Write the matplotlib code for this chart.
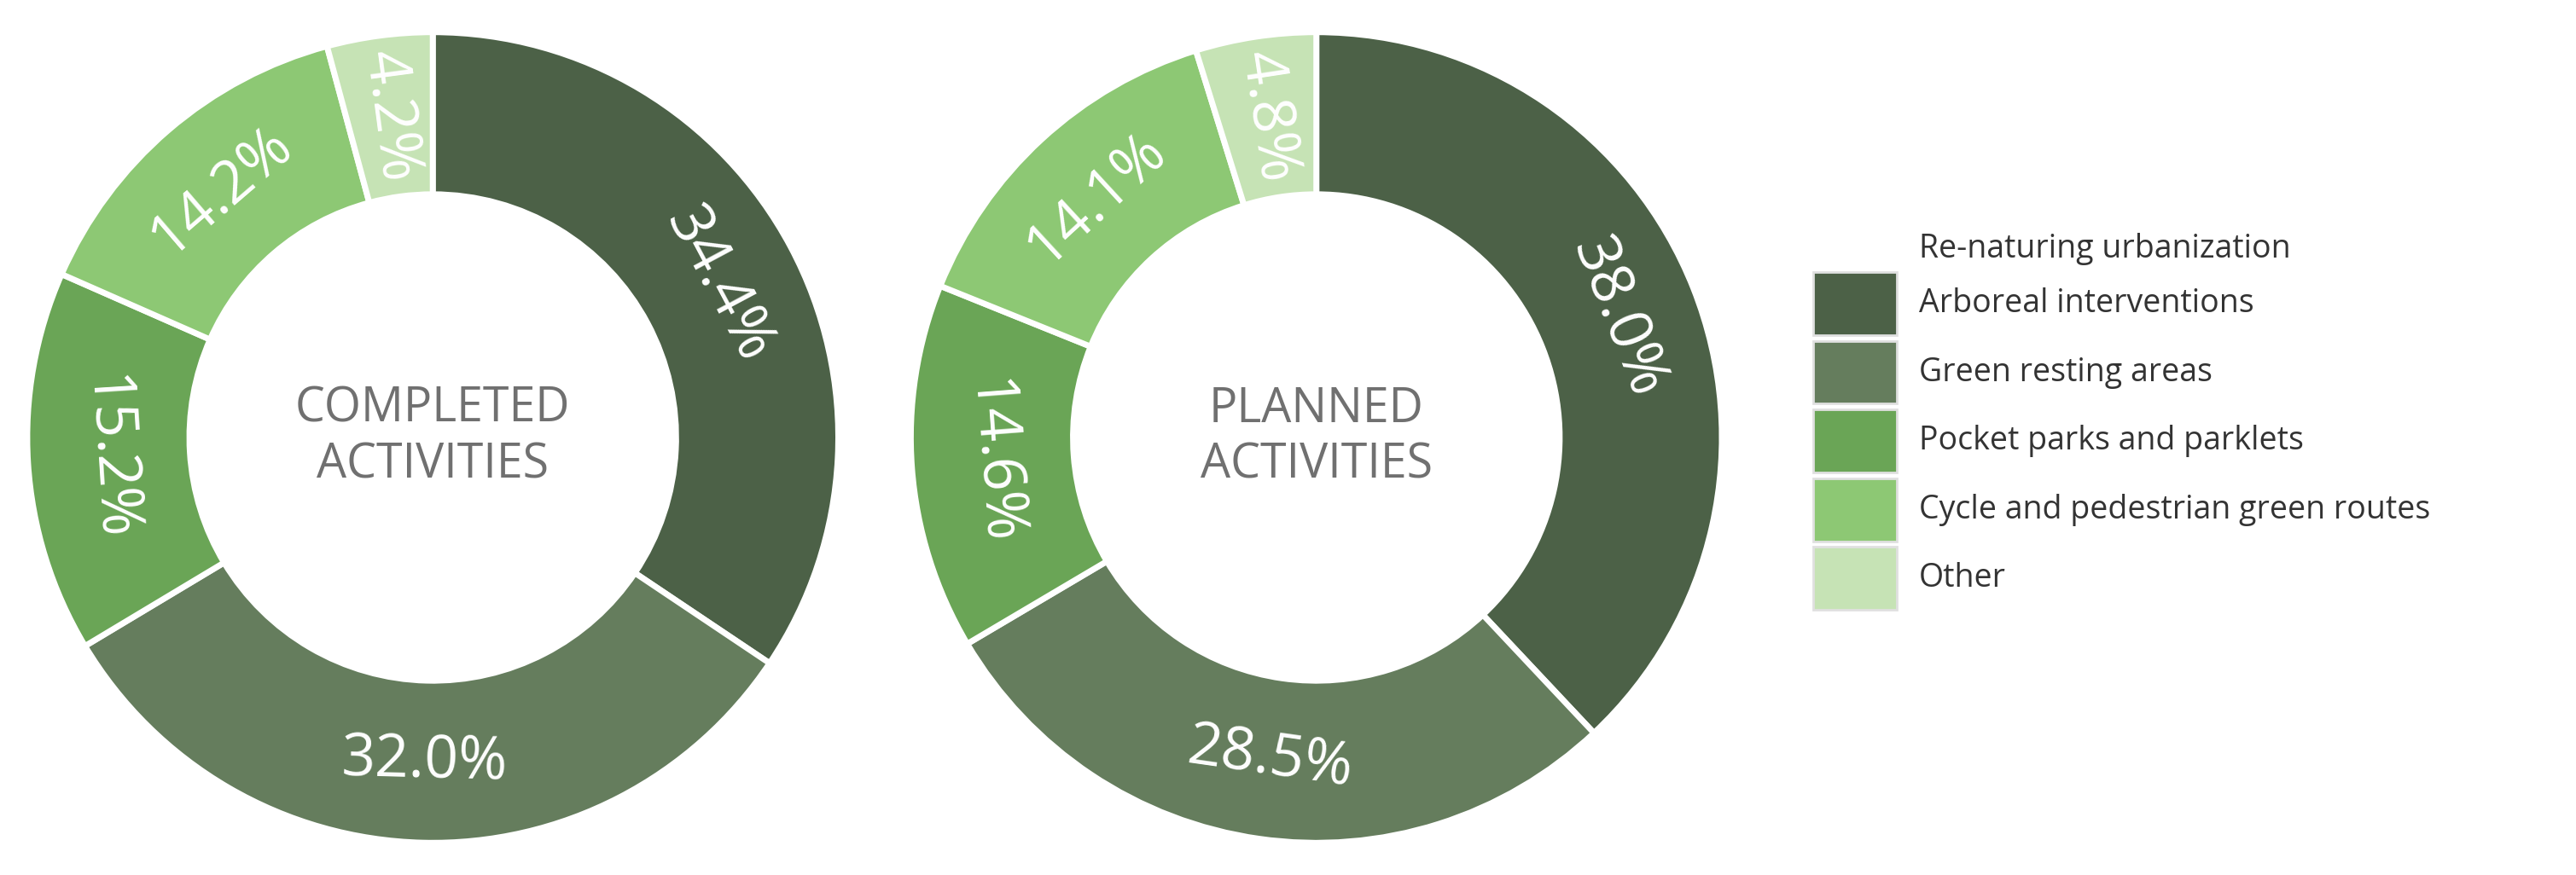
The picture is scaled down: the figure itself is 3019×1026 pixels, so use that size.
import matplotlib
matplotlib.use("Agg")
import matplotlib.pyplot as plt
import numpy as np
from matplotlib.patches import Rectangle

categories = ["Arboreal interventions", "Green resting areas", "Pocket parks and parklets",
              "Cycle and pedestrian green routes", "Other"]
completed = [34.4, 32.0, 15.2, 14.2, 4.2]
planned = [38.0, 28.5, 14.6, 14.1, 4.8]
colors = ["#4c6147", "#657d5d", "#6aa556", "#8dc874", "#c6e3b5"]
titles = ["COMPLETED\nACTIVITIES", "PLANNED\nACTIVITIES"]
legend_title = "Re-naturing urbanization"

plt.rcParams['font.family'] = ['Open Sans', 'DejaVu Sans']
fig = plt.figure(figsize=(30.19, 10.26), dpi=100)
H = 0.945
W = H * 1026 / 3019
centers = [0.168, 0.511]

def draw(ax, vals, title):
    wedges, _ = ax.pie(vals, colors=colors, startangle=90, counterclock=False,
                       radius=1.0, wedgeprops=dict(width=0.4, edgecolor="white", linewidth=5))
    total = sum(vals)
    cum = 0
    for v in vals:
        mid = 90 - 360 * (cum + v / 2) / total
        cum += v
        th = np.deg2rad(mid)
        x, y = 0.8 * np.cos(th), 0.8 * np.sin(th)
        if v < 5:
            rot = mid
        else:
            rot = mid - 90
        rot = (rot + 180) % 360 - 180
        if rot > 90: rot -= 180
        if rot < -90: rot += 180
        ax.text(x, y, f"{v:.1f}%", color="white", fontsize=50, ha="center", va="center",
                rotation=rot, rotation_mode="anchor")
    ax.text(0, 0, title, ha="center", va="center", fontsize=40, color="#707070",
            linespacing=1.2)
    ax.set_xlim(-1.02, 1.02); ax.set_ylim(-1.02, 1.02)
    ax.set_aspect("equal")
    return wedges

for c, vals, t in zip(centers, [completed, planned], titles):
    ax = fig.add_axes([c - W / 2, 0.5 - H / 2, W, H])
    draw(ax, vals, t)

# legend
fig.text(0.745, 0.715, legend_title, fontsize=27, color="#333333", va="center")
y0 = 0.653
dy = 0.0785
for i, (cat, col) in enumerate(zip(categories, colors)):
    y = y0 - i * dy
    fig.patches.append(Rectangle((0.704, y - 0.036), 0.0325, 0.072, transform=fig.transFigure,
                                 facecolor=col, edgecolor="#e0e0e0", linewidth=2))
    fig.text(0.745, y, cat, fontsize=27, color="#333333", va="center")

fig.savefig("out.png", dpi=100, facecolor="white")
